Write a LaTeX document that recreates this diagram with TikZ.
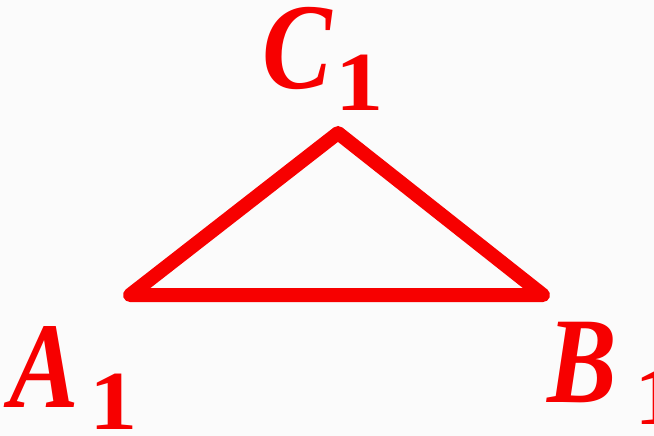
\documentclass[tikz,border=0pt]{standalone}
\usepackage{graphicx}
\usepackage{fontspec}
\setmainfont{Liberation Serif}
\definecolor{tri}{HTML}{F70000}
\definecolor{bg}{HTML}{FBFBFB}
\newcommand\mainlet[1]{\scalebox{0.85}[1]{\fontsize{92}{92}\selectfont\bfseries\itshape #1}}
\newcommand\subone[1][4pt]{\kern #1\lower 17pt\hbox{\scalebox{1.15}[1]{\fontsize{63}{63}\selectfont\bfseries\upshape 1}}}
\begin{document}
\begin{tikzpicture}[x=0.75pt,y=-0.75pt,
  lbl/.style={anchor=base west,inner sep=0pt,text=tri},
  side/.style={draw=tri,line width=10.5pt,line join=round,line cap=round}]
\useasboundingbox (0,0) rectangle (654,436);
\clip (0,0) rectangle (654,436);
\fill[bg] (0,0) rectangle (654,436);
\coordinate (A) at (130,295);
\coordinate (B) at (543,295);
\coordinate (C) at (338,133);
\draw[side] (A) -- (B) -- (C) -- cycle;
\node[lbl] (c1) at (262,88) {\mainlet{C}\subone[3pt]};
\node[lbl] (a1) at (9,407) {\mainlet{A}\subone[8pt]};
\node[lbl] (b1) at (547,402) {\mainlet{B}\subone[13pt]};
\end{tikzpicture}
\end{document}
